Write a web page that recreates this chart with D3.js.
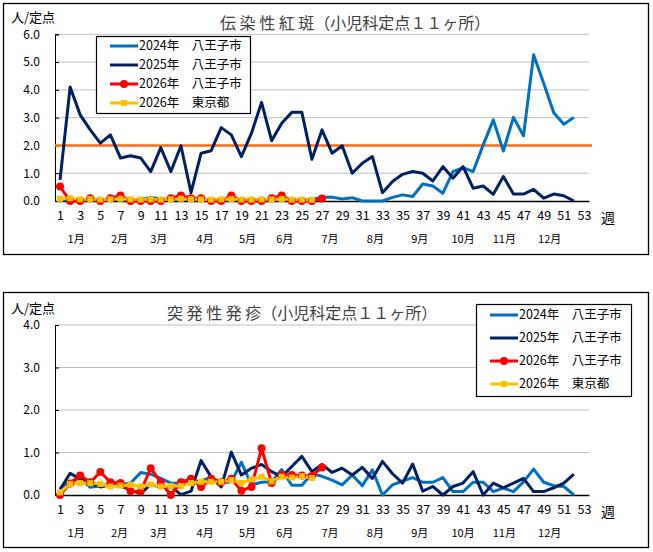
<!DOCTYPE html>
<html>
<head>
<meta charset="utf-8">
<script src="https://cdn.jsdelivr.net/npm/d3@7"></script>
<style>
  body { margin: 0; background: #fff; }
  text { font-family: "Noto Sans CJK JP", "Noto Sans", sans-serif; }
</style>
</head>
<body>
<div id="chart-area"></div>
<script>
// weeks and labels
var weeks = d3.range(1, 54);
var weekTicks = d3.range(1, 54, 2);
var months = ["1月", "2月", "3月", "4月", "5月", "6月", "7月", "8月", "9月", "10月", "11月", "12月"];
var monthWeeks = [2.6, 6.9, 10.8, 15.4, 19.6, 23.3, 27.8, 32.3, 36.7, 41, 45.1, 49.6];
var seriesNames = ["2024年　八王子市", "2025年　八王子市", "2026年　八王子市", "2026年　東京都"];

// 伝染性紅斑
var erythema2024 = [0.05, 0.03, 0.04, 0.05, 0.03, 0.05, 0.06, 0.04, 0.05, 0.13, 0.08, 0.05, 0.06, 0.05, 0.04, 0.05, 0.04, 0.05, 0.06, 0.05,
    0.05, 0.04, 0.05, 0.06, 0.05, 0.06, 0.13, 0.14, 0.07, 0.12, 0, 0, 0, 0.13, 0.22, 0.16, 0.61, 0.54, 0.28, 1.06,
    1.2, 1.06, 2.02, 2.92, 1.8, 3.01, 2.35, 5.26, 4.24, 3.18, 2.76, 3.01];
var erythema2025 = [0.76, 4.1, 3.1, 2.56, 2.08, 2.38, 1.55, 1.63, 1.55, 1.06, 1.92, 1.06, 1.99, 0.3, 1.72, 1.81, 2.64, 2.38, 1.6, 2.44,
    3.55, 2.17, 2.8, 3.19, 3.19, 1.5, 2.56, 1.72, 1.99, 1.0, 1.36, 1.6, 0.3, 0.7, 0.96, 1.06, 1.0, 0.72, 1.24, 0.82,
    1.24, 0.46, 0.54, 0.24, 0.88, 0.25, 0.25, 0.42, 0.1, 0.25, 0.19, 0];
var erythema2026 = [0.52, 0, 0, 0.1, 0, 0.1, 0.2, 0, 0, 0, 0, 0.1, 0.2, 0.1, 0.1, 0, 0, 0.2, 0, 0, 0, 0.1, 0.2, 0, 0, 0, 0.09];
var erythemaTokyo = [0.08, 0.1, 0.06, 0.07, 0.05, 0.06, 0.08, 0.06, 0.05, 0.06, 0.05, 0.06, 0.08, 0.06, 0.06, 0.05, 0.06, 0.07, 0.05, 0.05,
    0.06, 0.06, 0.07, 0.05, 0.05, 0.04];
var erythemaAlert = 2.0;

// 突発性発疹
var exanthem2024 = [0.16, 0.31, 0.39, 0.18, 0.22, 0.26, 0.25, 0.28, 0.53, 0.49, 0.39, 0.28, 0.27, 0.32, 0.33, 0.42, 0.28, 0.31, 0.77, 0.24,
    0.3, 0.31, 0.6, 0.23, 0.23, 0.5, 0.44, 0.35, 0.24, 0.47, 0.22, 0.59, 0, 0.24, 0.33, 0.41, 0.3, 0.3, 0.41, 0.08,
    0.08, 0.3, 0.3, 0.08, 0.16, 0.08, 0.31, 0.61, 0.3, 0.22, 0.2, 0];
var exanthem2025 = [0.13, 0.51, 0.38, 0.29, 0.19, 0.24, 0.21, 0.12, 0.03, 0.25, 0.19, 0.2, 0.01, 0.09, 0.81, 0.42, 0.19, 1.01, 0.47, 0.63,
    0.72, 0.55, 0.43, 0.67, 0.91, 0.55, 0.72, 0.53, 0.63, 0.47, 0.65, 0.39, 0.79, 0.5, 0.28, 0.73, 0.09, 0.2, 0, 0.2,
    0.28, 0.55, 0, 0.28, 0.17, 0.28, 0.39, 0.08, 0.08, 0.17, 0.28, 0.49];
var exanthem2026 = [0, 0.27, 0.46, 0.3, 0.54, 0.3, 0.28, 0.09, 0.08, 0.63, 0.3, 0, 0.3, 0.38, 0.19, 0.38, 0.3, 0.38, 0.1, 0.19,
    1.1, 0.28, 0.47, 0.47, 0.46, 0.45, 0.65];
var exanthemTokyo = [0.06, 0.26, 0.28, 0.28, 0.26, 0.2, 0.22, 0.24, 0.2, 0.25, 0.2, 0.21, 0.21, 0.28, 0.31, 0.31, 0.31, 0.35, 0.28, 0.37,
    0.43, 0.32, 0.43, 0.41, 0.44, 0.4];

var colors = ["#0070C0", "#002060", "#FF0000", "#FFC000"];

var svg = d3.select("#chart-area")
    .append("svg")
        .attr("width", 653)
        .attr("height", 552);

function drawChart(cfg) {
    var g = svg.append("g");

    // frame
    g.append("rect")
        .attr("x", 3.5).attr("y", cfg.boxTop + 0.5)
        .attr("width", 645).attr("height", cfg.boxHeight)
        .attr("fill", "none").attr("stroke", "#000").attr("stroke-width", 1.3);

    var x = d3.scaleLinear()
        .domain([0.5, 53.5])
        .range([55, 589]);

    var y = d3.scaleLinear()
        .domain([0, cfg.yMax])
        .range([cfg.bottom, cfg.top]);

    var yTicks = d3.range(0, cfg.yMax + 1);

    // gridlines
    g.selectAll(".grid").data(yTicks.slice(1)).enter()
        .append("line")
            .attr("x1", 55).attr("x2", 589)
            .attr("y1", (d) => y(d)).attr("y2", (d) => y(d))
            .attr("stroke", "#BFBFBF").attr("stroke-width", 1);

    // y axis
    var yAxisCall = d3.axisLeft(y)
        .tickValues(yTicks)
        .tickSize(-4)
        .tickPadding(15)
        .tickFormat(d3.format(".1f"));
    var ya = g.append("g")
        .attr("transform", "translate(55,0)")
        .call(yAxisCall);
    ya.select(".domain").attr("stroke", "#000");
    ya.selectAll("text").attr("font-size", "12px").attr("fill", "#000");

    // x axis
    var xAxisCall = d3.axisBottom(x)
        .tickValues(weekTicks)
        .tickSize(0)
        .tickPadding(10);
    var xa = g.append("g")
        .attr("transform", "translate(0," + cfg.bottom + ")")
        .call(xAxisCall);
    xa.select(".domain").attr("stroke", "#000").attr("stroke-width", 1.5);
    xa.selectAll("text").attr("font-size", "12.5px").attr("fill", "#000");

    // months
    g.selectAll(".month").data(months).enter()
        .append("text")
            .attr("x", (d, i) => x(monthWeeks[i]))
            .attr("y", cfg.bottom + 42)
            .attr("text-anchor", "middle")
            .attr("font-size", "11px")
            .text((d) => d);

    g.append("text")
        .attr("x", 608).attr("y", cfg.bottom + 22)
        .attr("text-anchor", "middle")
        .attr("font-size", "14px")
        .text("週");

    g.append("text")
        .attr("x", 11).attr("y", cfg.top - 12)
        .attr("font-size", "13px")
        .text("人/定点");

    g.append("text")
        .attr("x", cfg.titleX).attr("y", cfg.titleY)
        .attr("font-size", "16px")
        .attr("fill", "#404040")
        .text(cfg.title);

    // alert line
    if (cfg.alert !== undefined) {
        g.append("line")
            .attr("x1", 55).attr("x2", 592)
            .attr("y1", y(cfg.alert)).attr("y2", y(cfg.alert))
            .attr("stroke", "#FF6A13").attr("stroke-width", 2.5);
    }

    var line = d3.line()
        .x((d, i) => x(weeks[i]))
        .y((d) => y(d));

    cfg.series.forEach((s, k) => {
        g.append("path")
            .datum(s)
            .attr("fill", "none")
            .attr("stroke", colors[k])
            .attr("stroke-width", 3)
            .attr("stroke-linejoin", "round")
            .attr("d", line);
    });

    // markers
    g.selectAll(".dot26").data(cfg.series[2]).enter()
        .append("circle")
            .attr("cx", (d, i) => x(weeks[i]))
            .attr("cy", (d) => y(d))
            .attr("r", 4)
            .attr("fill", colors[2]);

    g.selectAll(".sqTokyo").data(cfg.series[3]).enter()
        .append("rect")
            .attr("x", (d, i) => x(weeks[i]) - 3)
            .attr("y", (d) => y(d) - 3)
            .attr("width", 6).attr("height", 6)
            .attr("fill", colors[3]);

    // legend
    var lg = g.append("g")
        .attr("transform", "translate(" + cfg.legX + "," + cfg.legY + ")");
    lg.append("rect")
        .attr("x", 0.5).attr("y", 0.5)
        .attr("width", cfg.legW).attr("height", cfg.legH)
        .attr("fill", "#fff").attr("stroke", "#000").attr("stroke-width", 1.2);
    seriesNames.forEach((name, k) => {
        var yy = cfg.legPad + k * cfg.legStep;
        lg.append("line")
            .attr("x1", 14).attr("x2", 42)
            .attr("y1", yy).attr("y2", yy)
            .attr("stroke", colors[k]).attr("stroke-width", 3);
        if (k === 2) {
            lg.append("circle").attr("cx", 28).attr("cy", yy).attr("r", 4).attr("fill", colors[k]);
        }
        if (k === 3) {
            lg.append("rect").attr("x", 25).attr("y", yy - 3).attr("width", 6).attr("height", 6).attr("fill", colors[k]);
        }
        lg.append("text")
            .attr("x", 43).attr("y", yy)
            .attr("dy", "0.35em")
            .attr("font-size", "12.5px")
            .text(name);
    });
}

drawChart({
    boxTop: 3, boxHeight: 251,
    top: 34.3, bottom: 201, yMax: 6,
    title: "伝 染 性 紅 斑（小児科定点１１ヶ所）", titleX: 220, titleY: 29,
    alert: erythemaAlert,
    series: [erythema2024, erythema2025, erythema2026, erythemaTokyo],
    legX: 96, legY: 36, legW: 154, legH: 77, legPad: 10, legStep: 19
});

drawChart({
    boxTop: 292, boxHeight: 255,
    top: 325, bottom: 495, yMax: 4,
    title: "突 発 性 発 疹（小児科定点１１ヶ所）", titleX: 167, titleY: 319,
    series: [exanthem2024, exanthem2025, exanthem2026, exanthemTokyo],
    legX: 476, legY: 304, legW: 155, legH: 92, legPad: 11, legStep: 23
});
</script>
</body>
</html>
